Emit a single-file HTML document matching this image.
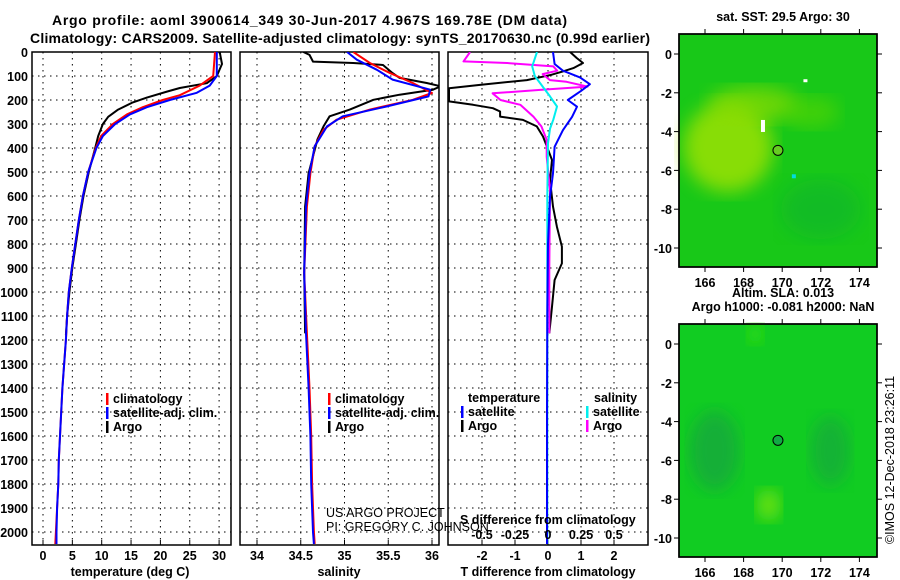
<!DOCTYPE html>
<html><head><meta charset="utf-8"><style>
html,body{margin:0;padding:0;background:#fff}
svg{display:block;font-family:"Liberation Sans",sans-serif}
.b{font-weight:bold;font-size:12.5px}
</style></head><body>
<svg id="fig" width="900" height="580" viewBox="0 0 900 580" xmlns="http://www.w3.org/2000/svg">
<rect width="900" height="580" fill="#fff"/>
<text x="52" y="25" font-size="14" font-weight="bold" textLength="515">Argo profile: aoml 3900614_349 30-Jun-2017 4.967S 169.78E (DM data)</text>
<text x="30" y="43" font-size="14" font-weight="bold" textLength="620">Climatology: CARS2009. Satellite-adjusted climatology: synTS_20170630.nc (0.99d earlier)</text>
<g id="g1"></g>
<g id="g2"></g>
<g id="g3"></g>
<g id="m1"></g>
<g id="m2"></g>
<text transform="translate(894,460) rotate(-90)" text-anchor="middle" font-size="12.5">©IMOS 12-Dec-2018 23:26:11</text>
</svg>
<script>
// ---- data ----
const depthTicks=[0,100,200,300,400,500,600,700,800,900,1000,1100,1200,1300,1400,1500,1600,1700,1800,1900,2000];
const tempTicks=[0,5,10,15,20,25,30];
const salTicks=[34,34.5,35,35.5,36];
const tdiffTicks=[-2,-1,0,1,2];
const sdiffTicks=[-0.5,-0.25,0,0.25,0.5];
const sdiffTickLabels=["-0.5","-0.25","0","0.25","0.5"];
const climTDepth=[0,100,140,180,200,230,260,300,350,400,500,600,700,800,900,1000,1100,1200,1400,1500,1600,1700,1800,1900,2000,2050];
const climT=[29.3,29.0,26.7,23.3,20.4,17.0,14.3,11.9,9.9,9.0,7.7,6.8,6.1,5.5,4.9,4.4,4.1,3.9,3.3,3.1,2.9,2.7,2.6,2.4,2.2,2.1];
const satTDepth=[0,100,140,170,200,230,260,300,350,400,500,600,700,800,900,1000,1100,1200,1400,1500,1600,1700,1800,1900,2000,2050];
const satT=[29.6,29.6,28.4,26.2,21.6,17.7,14.8,12.3,10.2,9.1,7.7,6.8,6.1,5.5,4.9,4.4,4.1,3.9,3.3,3.1,2.9,2.7,2.6,2.4,2.3,2.3];
const argoTDepth=[0,50,100,130,150,165,190,210,240,270,300,350,400,500,600,700,800,900,1000,1100,1180];
const argoT=[30.1,30.5,29.6,27.9,23.3,21.1,17.7,15.3,12.8,11.1,10.2,9.4,8.9,7.8,6.9,6.2,5.6,5.0,4.5,4.1,3.9];
const climSDepth=[0,46,88,129,171,199,240,282,324,393,505,644,921,1172,1400,1600,1800,2000,2050];
const climS=[35.10,35.29,35.52,35.78,36.0,35.78,35.29,34.91,34.76,34.66,34.61,34.57,34.54,34.57,34.60,34.62,34.63,34.65,34.66];
const satSDepth=[0,32,74,115,157,185,227,268,310,393,505,644,921,1172,1400,1600,1800,2000,2050];
const satS=[35.03,35.14,35.37,35.55,35.98,35.96,35.48,34.98,34.80,34.66,34.60,34.56,34.54,34.56,34.59,34.61,34.62,34.64,34.65];
const argoSDepth=[0,12,40,46,54,88,108,129,143,157,178,199,240,268,310,365,505,644,921,1172];
const argoS=[34.53,34.60,34.64,35.10,35.44,35.55,35.63,35.94,36.10,36.01,35.63,35.33,35.06,34.83,34.76,34.69,34.59,34.55,34.54,34.55];
const tdSatDepth=[0,50,78,106,134,162,200,228,270,326,395,506,603,800,1100,1500,2050];
const tdSat=[0.15,0.2,0.45,0.97,1.27,1.0,0.6,0.88,0.73,0.45,0.2,0.15,0.06,0.0,-0.02,-0.03,-0.03];
const tdArgoDepth=[0,25,46,67,81,95,117,137,151,206,220,234,248,269,283,310,352,395,450,533,644,728,811,881,950,1061,1172];
const tdArgo=[0.67,0.87,1.06,0.77,0.45,0.1,-0.64,-2.06,-3.0,-3.0,-2.27,-1.67,-1.45,-1.45,-0.76,-0.34,-0.15,-0.03,0.12,0.06,0.15,0.27,0.42,0.42,0.2,0.12,0.04];
const sdSatDepth=[0,60,100,144,185,227,282,320,380,600,1000,1500,2050];
const sdSat=[-0.083,-0.12,-0.10,-0.04,0.015,0.068,0.04,0.015,0.0,-0.005,-0.005,-0.005,-0.005];
const sdArgoDepth=[0,39,46,60,78,92,117,124,144,158,172,200,220,270,310,366,436,575,900,1172];
const sdArgo=[-0.59,-0.64,-0.31,0.04,0.07,-0.04,0.015,0.14,0.30,-0.06,-0.42,-0.36,-0.21,-0.11,-0.05,-0.01,-0.01,0.015,0.01,0.01];
const latTicks=[0,-2,-4,-6,-8,-10];
const lonTicks=[166,168,170,172,174];
// ---- helpers ----
const NS="http://www.w3.org/2000/svg";
function mk(p,tag,at,txt){const e=document.createElementNS(NS,tag);for(const k in at)e.setAttribute(k,at[k]);if(txt!==undefined)e.textContent=txt;p.appendChild(e);return e;}
const Y=d=>52+d*0.24;
const TOP=52, BOT=545;
const xT=t=>43+t*5.87;
const xS=s=>257+(s-34)*87.5;
const xTD=t=>548+t*33;
const xSD=s=>548+s*132;
function frame(g,x0,x1,name){
  const f=mk(g,'rect',{x:x0,y:TOP,width:x1-x0,height:BOT-TOP,fill:'#fff',stroke:'#000','stroke-width':1.5});
  
  
  depthTicks.forEach(d=>{const l=mk(g,'line',{x1:x0,x2:x1,y1:Y(d),y2:Y(d),stroke:'#000','stroke-dasharray':'1.5,4.5'});
    
    });
}
function vgrid(g,vals,fx,lab,ly){
  vals.forEach((v,i)=>{const x=fx(v);
    const l=mk(g,'line',{x1:x,x2:x,y1:TOP,y2:BOT,stroke:'#000','stroke-dasharray':'1.5,4.5'});
    
    
    mk(g,'line',{x1:x,x2:x,y1:BOT,y2:BOT-5,stroke:'#000'});
    if(lab){const t=mk(g,'text',{x:x,y:ly,'text-anchor':'middle',class:'b'},lab[i]);
      
      }
  });
}
function clipFor(g,id,x0,x1){const d=mk(g,'defs',{});const c=mk(d,'clipPath',{id:id});mk(c,'rect',{x:x0,y:TOP,width:x1-x0,height:BOT-TOP});}
function line(g,ds,vs,fx,col,w,name,clip){
  const pts=ds.map((d,i)=>fx(vs[i]).toFixed(1)+','+Y(d).toFixed(1)).join(' ');
  const p=mk(g,'polyline',{points:pts,fill:'none',stroke:col,'stroke-width':w,'clip-path':'url(#'+clip+')','stroke-linejoin':'round'});
  
  
}
function legend(g,x,y,col,txt,name){
  mk(g,'rect',{x:x-7,y:y-10,width:2.5,height:12,fill:col});
  const t=mk(g,'text',{x:x,y:y,class:'b'},txt);
  
  
}
// ---- panel 1 ----
const g1=document.getElementById('g1');
frame(g1,32,231,'temperature-plot-area');
clipFor(g1,'c1',32,231);
vgrid(g1,tempTicks,xT,tempTicks.map(String),560);
depthTicks.forEach(d=>{const t=mk(g1,'text',{x:28,y:Y(d)+5,'text-anchor':'end',class:'b'},String(d));
  
  });
line(g1,argoTDepth,argoT,xT,'#000',2,'argo-temperature-line','c1');
line(g1,climTDepth,climT,xT,'#f00',2,'climatology-temperature-line','c1');
line(g1,satTDepth,satT,xT,'#00f',2,'satellite-temperature-line','c1');
legend(g1,113,403,'#f00','climatology','legend-climatology');
legend(g1,113,417,'#00f','satellite-adj. clim.','legend-satellite');
legend(g1,113,431,'#000','Argo','legend-argo');
mk(g1,'text',{x:130,y:576,'text-anchor':'middle',class:'b'},'temperature (deg C)');
// ---- panel 2 ----
const g2=document.getElementById('g2');
frame(g2,240,439,'salinity-plot-area');
clipFor(g2,'c2',240,439);
vgrid(g2,salTicks,xS,salTicks.map(String),560);
line(g2,argoSDepth,argoS,xS,'#000',2,'argo-salinity-line','c2');
line(g2,climSDepth,climS,xS,'#f00',2,'climatology-salinity-line','c2');
line(g2,satSDepth,satS,xS,'#00f',2,'satellite-salinity-line','c2');
legend(g2,335,403,'#f00','climatology','legend-climatology-s');
legend(g2,335,417,'#00f','satellite-adj. clim.','legend-satellite-s');
legend(g2,335,431,'#000','Argo','legend-argo-s');
mk(g2,'text',{x:339,y:576,'text-anchor':'middle',class:'b'},'salinity');
// ---- panel 3 ----
const g3=document.getElementById('g3');
frame(g3,448,648,'difference-plot-area');
clipFor(g3,'c3',448,648);
vgrid(g3,tdiffTicks,xTD,tdiffTicks.map(String),560);
line(g3,tdArgoDepth,tdArgo,xTD,'#000',2,'argo-t-diff-line','c3');
line(g3,sdArgoDepth,sdArgo,xSD,'#f0f',2,'argo-s-diff-line','c3');
line(g3,sdSatDepth,sdSat,xSD,'#0ee',2,'satellite-s-diff-line','c3');
line(g3,tdSatDepth,tdSat,xTD,'#00f',2,'satellite-t-diff-line','c3');
mk(g3,'text',{x:468,y:402,class:'b'},'temperature');
legend(g3,468,416,'#00f','satellite','legend-t-satellite');
legend(g3,468,430,'#000','Argo','legend-t-argo');
mk(g3,'text',{x:594,y:402,class:'b'},'salinity');
legend(g3,593,416,'#0ee','satellite','legend-s-satellite');
legend(g3,593,430,'#f0f','Argo','legend-s-argo');
mk(g3,'text',{x:460,y:524,class:'b'},'S difference from climatology');
sdiffTicks.forEach((s,i)=>{const t=mk(g3,'text',{x:xSD(s),y:539,'text-anchor':'middle',class:'b'},sdiffTickLabels[i]);
  
  });
mk(g3,'text',{x:548,y:576,'text-anchor':'middle',class:'b'},'T difference from climatology');
// credit text on top
const svg=document.getElementById('fig');
mk(svg,'text',{x:326,y:517,'font-size':'12.5'},'US ARGO PROJECT');
mk(svg,'text',{x:326,y:531,'font-size':'12.5'},'PI: GREGORY C. JOHNSON');
// ---- maps ----
const LX=l=>705+(l-166)*19.3;
function map(id,y0,title,fills,shapes,dotFill){
  const g=document.getElementById(id);
  const LY=la=>y0+20+(-la)*19.4;
  mk(g,'rect',{x:679,y:y0,width:198,height:233,fill:fills,stroke:'#000','stroke-width':1.5});
  shapes(g,LY);
  mk(g,'rect',{x:679,y:y0,width:198,height:233,fill:'none',stroke:'#000','stroke-width':1.5});
  latTicks.forEach(la=>{mk(g,'line',{x1:679,x2:674,y1:LY(la),y2:LY(la),stroke:'#000'});mk(g,'line',{x1:877,x2:882,y1:LY(la),y2:LY(la),stroke:'#000'});
    const t=mk(g,'text',{x:672,y:LY(la)+5,'text-anchor':'end',class:'b'},String(la));
    
    });
  lonTicks.forEach(lo=>{mk(g,'line',{x1:LX(lo),x2:LX(lo),y1:y0+233,y2:y0+238,stroke:'#000'});mk(g,'line',{x1:LX(lo),x2:LX(lo),y1:y0,y2:y0-5,stroke:'#000'});
    const t=mk(g,'text',{x:LX(lo),y:y0+253,'text-anchor':'middle',class:'b'},String(lo));
    
    });
  const c=mk(g,'circle',{cx:LX(169.78),cy:LY(-4.967),r:5,fill:dotFill,stroke:'#000'});
  
  
  title.forEach((t,i)=>mk(g,'text',{x:783,y:y0-13-14*(title.length-1-i),'text-anchor':'middle',class:'b'},t));
}
map('m1',34,['sat. SST: 29.5 Argo: 30'],'#18c818',(g,LY)=>{
  const d=mk(g,'defs',{});const f=mk(d,'filter',{id:'bl'});mk(f,'feGaussianBlur',{stdDeviation:9});
  mk(g,'ellipse',{cx:LX(167.2),cy:LY(-4.8),rx:45,ry:45,fill:'#aee400',filter:'url(#bl)',opacity:0.75});
  mk(g,'ellipse',{cx:LX(168.5),cy:LY(-2.6),rx:45,ry:18,fill:'#8edc00',filter:'url(#bl)',opacity:0.7});
  mk(g,'ellipse',{cx:LX(171.5),cy:LY(-3),rx:28,ry:16,fill:'#5ad600',filter:'url(#bl)',opacity:0.6});
  mk(g,'ellipse',{cx:LX(172),cy:LY(-8),rx:40,ry:30,fill:'#10b030',filter:'url(#bl)',opacity:0.5});
  mk(g,'rect',{x:LX(168.9),y:LY(-3.4),width:4,height:12,fill:'#fff'});
  mk(g,'rect',{x:LX(171.1),y:LY(-1.3),width:4,height:3,fill:'#fff'});
  mk(g,'rect',{x:LX(170.5),y:LY(-6.2),width:4,height:4,fill:'#0dd'});
},'#66cc22');
map('m2',324,['Altim. SLA: 0.013','Argo h1000: -0.081 h2000: NaN'],'#11cc22',(g,LY)=>{
  const d=mk(g,'defs',{});const f=mk(d,'filter',{id:'bl2'});mk(f,'feGaussianBlur',{stdDeviation:8});
  mk(g,'ellipse',{cx:LX(166.5),cy:LY(-5.5),rx:25,ry:40,fill:'#12a83e',filter:'url(#bl2)',opacity:0.8});
  mk(g,'ellipse',{cx:LX(172.5),cy:LY(-5.5),rx:20,ry:35,fill:'#12a83e',filter:'url(#bl2)',opacity:0.7});
  mk(g,'ellipse',{cx:LX(169.3),cy:LY(-8.3),rx:12,ry:16,fill:'#66e010',filter:'url(#bl2)'});
  mk(g,'ellipse',{cx:LX(168.6),cy:LY(0.5),rx:8,ry:10,fill:'#33dd10',filter:'url(#bl2)'});
},'#11aa44');
</script>
</body></html>
